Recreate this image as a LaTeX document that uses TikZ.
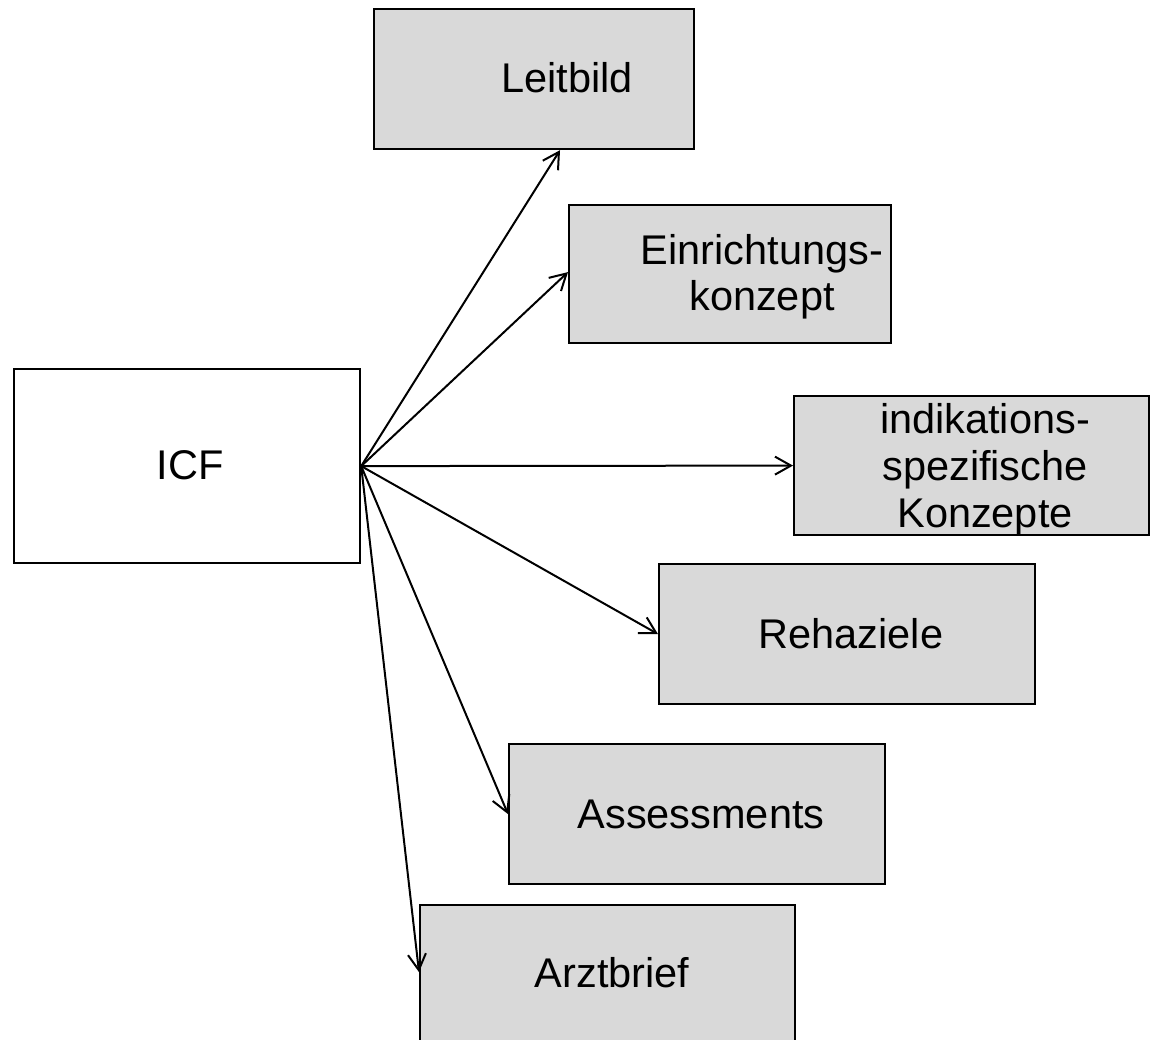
\documentclass[tikz,border=0pt]{standalone}
\usepackage{fontspec}
\setmainfont{Liberation Sans}
\usetikzlibrary{arrows.meta}
\definecolor{boxgray}{HTML}{D9D9D9}
\begin{document}
\begin{tikzpicture}[x=1pt,y=-1pt,
  box/.style={draw=black, line width=2.2pt, fill=boxgray, inner sep=0pt, anchor=north west},
  lbl/.style={font=\fontsize{41.5}{46}\selectfont, align=center, anchor=base, inner sep=0pt},
  conn/.style={line width=2pt, -{Straight Barb[length=16pt,width=18pt,line width=2pt]}}]
\useasboundingbox (0,0) rectangle (1150,1040);
\node[box, fill=white, minimum width=346pt, minimum height=194pt] (icf) at (13,368) {};
\node[box, minimum width=320pt, minimum height=140pt] (leit) at (373,8) {};
\node[box, minimum width=322pt, minimum height=138pt] (ein) at (568,204) {};
\node[box, minimum width=355pt, minimum height=139pt] (ind) at (793,395) {};
\node[box, minimum width=376pt, minimum height=140pt] (reha) at (658,563) {};
\node[box, minimum width=376pt, minimum height=140pt] (ass) at (508,743) {};
\node[box, minimum width=375pt, minimum height=140pt] (arzt) at (419,904) {};

\node[lbl] (ticf) at (190,479) {ICF};
\node[lbl] (tleit) at (567,93) {Leitbild};
\node[lbl, font=\fontsize{41.5}{45}\selectfont] (tein) at (762,310) {Einrichtungs-\\konzept};
\node[lbl, font=\fontsize{41.5}{47}\selectfont] (tind) at (985,527) {indikations-\\spezifische\\Konzepte};
\node[lbl] (treha) at (851,648) {Rehaziele};
\node[lbl] (tass) at (701,828) {Assessments};
\node[lbl] (tarzt) at (612,987) {Arztbrief};

\draw[conn] (icf.east) -- ([xshift=187pt]leit.south west);
\draw[conn] (icf.east) -- ([yshift=2pt]ein.west);
\draw[conn] (icf.east) -- (ind.west);
\draw[conn] (icf.east) -- (reha.west);
\draw[conn] (icf.east) -- (ass.west);
\draw[conn] (icf.east) -- ([yshift=3pt]arzt.west);
\end{tikzpicture}
\end{document}
